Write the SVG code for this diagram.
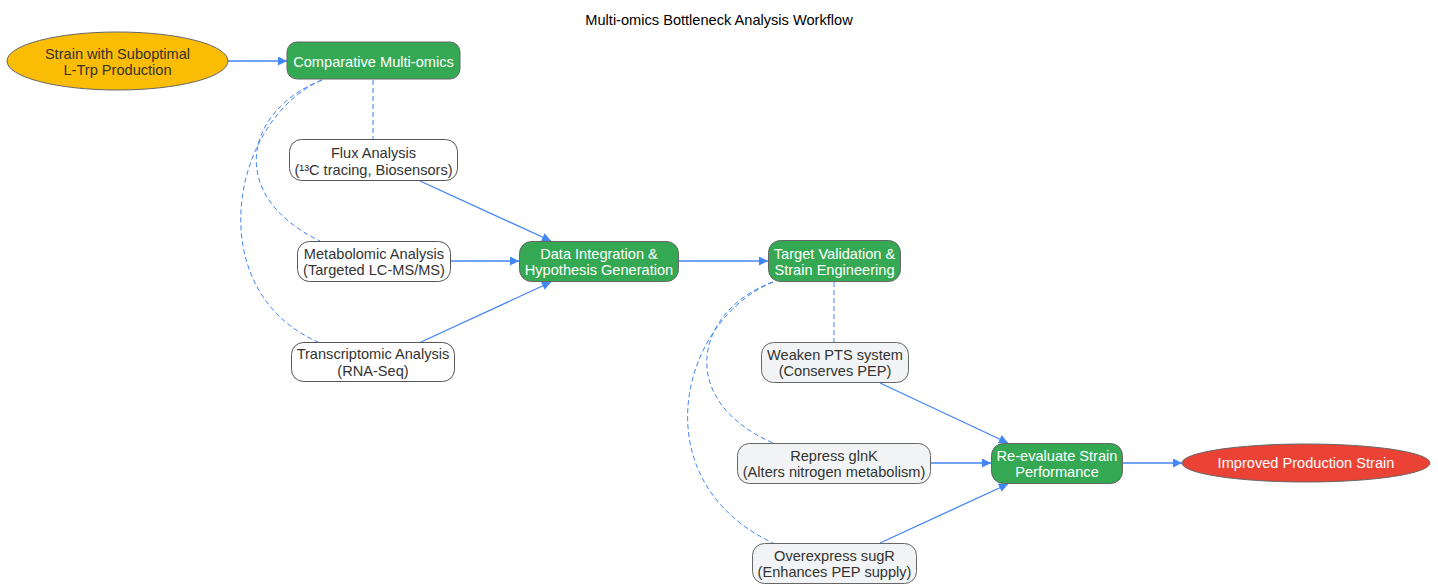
<svg xmlns="http://www.w3.org/2000/svg" width="1438" height="584" viewBox="0 0 1438 584">
<defs>
<marker id="arr" viewBox="0 0 10 10" refX="10" refY="5" markerWidth="11" markerHeight="9" markerUnits="userSpaceOnUse" orient="auto">
<path d="M0,0 L10,5 L0,10 z" fill="#4285F4"/>
</marker>
</defs>
<style>
text{font-family:"Liberation Sans",Arial,sans-serif;font-size:14.6px;text-anchor:middle}
.dark{fill:#333}
.light{fill:#fff}
.green{fill:#34A853;stroke:#666;stroke-width:1}
.plain{fill:#fff;stroke:#555;stroke-width:1}
.grey{fill:#F1F3F4;stroke:#666;stroke-width:1}
.edge{fill:none;stroke:#4285F4;stroke-width:1.3}
.dash{fill:none;stroke:#4285F4;stroke-width:1;stroke-dasharray:5,3}
</style>
<rect width="1438" height="584" fill="#fff"/>
<text x="719" y="25" fill="#000">Multi-omics Bottleneck Analysis Workflow</text>
<g id="connectors">
<line class="edge" x1="228" y1="61" x2="287" y2="61" marker-end="url(#arr)"/>
<line class="dash" x1="373" y1="80" x2="373" y2="139"/>
<path class="dash" d="M322,80 C245,110 225,195 320,241"/>
<path class="dash" d="M322,80 C230,120 200,290 318,342"/>
<line class="edge" x1="420" y1="181" x2="551" y2="241" marker-end="url(#arr)"/>
<line class="edge" x1="451" y1="261" x2="519" y2="261" marker-end="url(#arr)"/>
<line class="edge" x1="421" y1="342" x2="551" y2="282" marker-end="url(#arr)"/>
<line class="edge" x1="679" y1="261" x2="768" y2="261" marker-end="url(#arr)"/>
<line class="dash" x1="834" y1="282" x2="834" y2="342"/>
<path class="dash" d="M773,282 C695,310 675,400 773,443"/>
<path class="dash" d="M773,282 C680,320 640,480 773,543"/>
<line class="edge" x1="880" y1="383" x2="1008" y2="443" marker-end="url(#arr)"/>
<line class="edge" x1="931" y1="463" x2="991" y2="463" marker-end="url(#arr)"/>
<line class="edge" x1="880" y1="543" x2="1008" y2="484" marker-end="url(#arr)"/>
<line class="edge" x1="1123" y1="463" x2="1182" y2="463" marker-end="url(#arr)"/>
</g>
<g id="strain">
<ellipse cx="117.5" cy="61" rx="110.5" ry="29" fill="#FBBC04" stroke="#666"/>
<text class="dark" x="117.5" y="59">Strain with Suboptimal</text>
<text class="dark" x="117.5" y="75">L-Trp Production</text>
</g>
<g id="comparative">
<rect class="green" x="287" y="42" width="173" height="37" rx="10"/>
<text class="light" x="373.5" y="67">Comparative Multi-omics</text>
</g>
<g id="flux">
<rect class="plain" x="289.5" y="139.5" width="168" height="41" rx="12"/>
<text class="dark" x="373.5" y="158">Flux Analysis</text>
<text class="dark" x="373.5" y="175">(¹³C tracing, Biosensors)</text>
</g>
<g id="metabolomic">
<rect class="plain" x="297.5" y="241.5" width="153" height="40" rx="12"/>
<text class="dark" x="374" y="259">Metabolomic Analysis</text>
<text class="dark" x="374" y="275">(Targeted LC-MS/MS)</text>
</g>
<g id="transcriptomic">
<rect class="plain" x="291.5" y="342.5" width="163" height="39" rx="12"/>
<text class="dark" x="373" y="359">Transcriptomic Analysis</text>
<text class="dark" x="373" y="376">(RNA-Seq)</text>
</g>
<g id="integration">
<rect class="green" x="519.5" y="241.5" width="159" height="40" rx="12"/>
<text class="light" x="599" y="259">Data Integration &amp;</text>
<text class="light" x="599" y="275">Hypothesis Generation</text>
</g>
<g id="validation">
<rect class="green" x="768.5" y="240.5" width="132" height="41" rx="12"/>
<text class="light" x="834.5" y="259">Target Validation &amp;</text>
<text class="light" x="834.5" y="275">Strain Engineering</text>
</g>
<g id="weaken">
<rect class="grey" x="761.5" y="342.5" width="147" height="40" rx="12"/>
<text class="dark" x="835" y="360">Weaken PTS system</text>
<text class="dark" x="835" y="376">(Conserves PEP)</text>
</g>
<g id="repress">
<rect class="grey" x="737.5" y="443.5" width="193" height="40" rx="12"/>
<text class="dark" x="834" y="461">Repress glnK</text>
<text class="dark" x="834" y="477">(Alters nitrogen metabolism)</text>
</g>
<g id="overexpress">
<rect class="grey" x="752.5" y="543.5" width="164" height="40" rx="12"/>
<text class="dark" x="834.5" y="561">Overexpress sugR</text>
<text class="dark" x="834.5" y="577">(Enhances PEP supply)</text>
</g>
<g id="reevaluate">
<rect class="green" x="991.5" y="443.5" width="131" height="40" rx="12"/>
<text class="light" x="1057" y="461">Re-evaluate Strain</text>
<text class="light" x="1057" y="477">Performance</text>
</g>
<g id="improved">
<ellipse cx="1306" cy="463" rx="124" ry="19" fill="#EA4335" stroke="#666"/>
<text class="light" x="1306" y="468">Improved Production Strain</text>
</g>
</svg>
